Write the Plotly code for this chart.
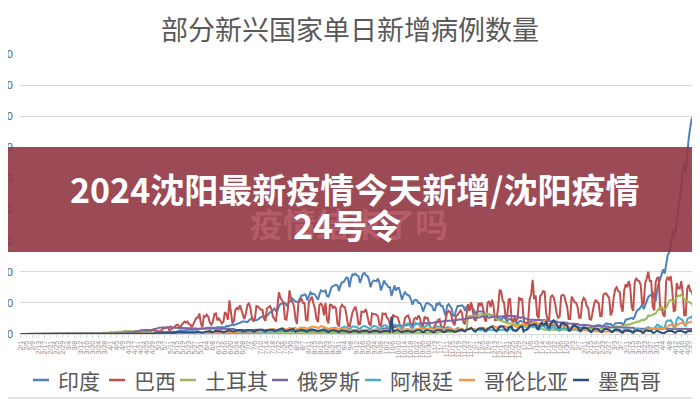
import pandas as pd
import plotly.graph_objects as go

# ---------------- data (daily new cases, in thousands) ----------------
start_date = "2020-02-01"
end_date = "2021-04-28"
dates = pd.date_range(start_date, end_date, freq="D")
tick_dates = list(dates[::4])
tick_labels = [f"{d.month}/{d.day}" for d in tick_dates]

names = ["印度", "巴西", "土耳其", "俄罗斯", "阿根廷", "哥伦比亚", "墨西哥"]
colors = ["#4F81BD", "#C0504D", "#9BBB59", "#8064A2", "#4BACC6", "#F79646", "#2C4D75"]
y_ticks = [0, 50000, 100000, 150000, 200000, 250000, 300000, 350000, 400000, 450000]

india_k = [
    0,0,0,0,0,0,0, 0,0,0,0,0,0,0, 0,0,0,0,0,0,0, 0,0,0,0,0,0,0,
    0,0,0,0,0,0,0, 0,0,0,0,0,0,0, 0,0,0,0,0,0,0, 0,0,0,0,0,0,0,
    0,0,0,0,1,1,1,
    1,1,1,1,1,1,1,
    1,1,1,1,1,1,1,
    1,2,2,1,2,2,2,
    2,2,2,2,2,2,2,
    3,2,3,4,3,3,3,
    4,4,3,4,4,4,4,
    5,5,5,5,6,6,7,
    7,7,6,7,6,7,8,
    8,8,8,8,9,10,10,
    10,10,9,9,10,11,11,
    12,12,11,10,13,12,13,
    15,15,14,15,17,17,18,
    20,20,20,19,19,22,23,
    25,24,22,22,23,25,27,
    28,29,28,29,32,35,35,
    38,41,37,37,45,48,49,
    49,50,46,48,52,53,57,
    54,52,52,52,57,62,62,
    64,62,54,61,67,64,65,
    63,58,55,64,70,69,68,
    70,61,60,67,75,77,78,
    79,78,69,78,83,83,87,
    91,90,75,89,96,95,97,
    94,93,82,90,97,98,94,
    93,87,75,83,86,86,85,
    89,82,70,80,86,81,79,
    75,75,61,72,78,70,74,
    74,66,55,63,67,64,62,
    61,55,47,54,55,54,50,
    50,45,36,43,49,50,48,
    46,45,38,38,50,47,50,
    45,45,38,29,45,48,45,
    41,30,29,38,45,45,46,
    46,44,37,44,44,43,41,
    41,38,31,36,36,35,36,
    37,32,27,31,32,30,30,
    27,27,22,26,24,22,26,
    26,24,20,24,24,23,23,
    22,19,16,20,21,20,19,
    18,18,16,18,20,18,18,
    19,16,12,16,16,15,15,
    15,13,10,13,15,14,14,
    14,13,9,12,18,11,13,
    13,11,8,11,13,12,12,
    12,11,9,11,12,10,10,
    11,11,10,12,13,13,14,
    14,14,11,13,16,17,16,
    16,16,13,14,17,17,18,
    18,18,15,17,23,23,24,
    25,26,24,28,35,39,40,
    43,47,40,47,53,59,62,
    62,68,57,53,72,81,89,
    93,104,97,115,127,131,145,
    152,169,161,185,201,217,234,
    261,274,259,295,315,332,346,
    349,353,323,361,379,
]

brazil_k = [
    0,0,0,0,0,0,0, 0,0,0,0,0,0,0, 0,0,0,0,0,0,0, 0,0,0,0,0,0,0,
    0,0,0,0,0,0,0, 0,0,0,0,0,0,0, 0,0,0,0,0,0,0,
    0,0,0,0,0,0,1,
    1,0,0,1,1,1,1,
    1,1,1,2,2,2,1,
    1,1,1,2,2,3,3,
    2,1,2,2,3,3,4,
    4,2,4,5,7,6,5,
    4,4,5,6,10,9,10,
    11,6,7,9,11,13,15,
    14,8,14,18,20,18,20,
    16,15,11,16,20,26,26,
    33,17,11,29,28,31,27,
    18,15,20,32,33,22,25,
    21,17,20,35,32,23,54,
    34,17,21,39,42,40,46,
    38,30,24,33,47,49,42,
    26,20,25,45,44,42,39,
    39,25,21,41,43,45,40,
    28,24,20,45,67,58,55,
    51,24,23,41,70,57,52,
    45,25,16,51,53,57,50,
    50,23,22,52,55,60,49,
    41,24,19,47,49,45,30,
    50,23,17,47,47,42,44,
    41,16,12,42,47,44,43,
    30,14,11,24,35,40,44,
    33,15,16,36,35,36,40,
    30,17,13,33,32,32,31,
    28,14,13,33,32,33,26,
    24,14,11,31,28,28,27,
    20,9,9,12,26,28,30,
    24,10,14,24,26,24,30,
    25,14,13,28,25,26,19,
    10,9,9,14,18,23,24,
    13,10,11,23,34,37,35,
    29,18,14,29,31,35,38,
    33,18,16,31,48,37,51,
    41,24,21,31,50,46,50,
    42,24,20,50,53,43,55,
    44,21,25,42,70,69,54,
    50,27,25,55,57,22,19,
    27,20,25,59,55,57,24,
    15,17,20,56,63,87,56,
    62,30,25,61,64,69,68,
    33,24,23,59,62,59,49,
    33,26,28,61,63,62,52,
    44,24,24,60,56,51,50,
    43,26,26,52,58,55,45,
    42,24,23,36,48,55,52,
    49,29,29,62,65,65,61,
    58,30,36,59,72,75,69,
    68,44,36,70,80,75,85,
    76,43,37,83,90,86,85,
    79,47,49,82,89,100,85,
    85,44,38,84,90,91,38,
    44,31,28,86,92,86,93,
    71,37,38,82,73,73,85,
    67,30,30,73,79,69,68,
    60,32,30,75,79,
]

turkey_k = [
    0,0,0,0,0,0,0, 0,0,0,0,0,0,0, 0,0,0,0,0,0,0, 0,0,0,0,0,0,0,
    0,0,0,0,0,0,0, 0,0,0,0,0,0,0,
    0,0,0,0,0,0,0,
    0,0,0,0,1,1,2,
    2,1,2,2,3,2,3,
    3,3,3,4,4,4,5,
    5,4,4,4,4,4,4,
    4,4,5,4,3,3,3,
    3,3,2,2,2,2,2,
    2,2,2,2,2,2,2,
    2,2,1,1,1,1,1,
    1,1,1,1,1,1,1, 1,1,1,1,1,1,1, 1,1,1,1,1,1,1, 1,1,1,1,1,1,1,
    1,1,1,1,1,1,1, 1,1,1,1,1,1,1, 1,1,1,1,1,1,1, 1,1,1,1,1,1,1,
    1,1,1,1,1,1,1, 1,1,1,1,1,1,1, 1,1,1,1,1,1,1, 1,1,1,1,1,1,1,
    1,1,1,1,1,1,1, 1,1,1,1,1,1,1, 1,1,1,1,1,1,1, 1,1,1,1,1,1,1,
    2,2,2,2,2,2,2, 2,2,2,2,2,2,2, 2,2,2,2,2,2,2, 2,2,2,2,2,2,2,
    2,2,2,2,2,2,2, 2,2,2,2,2,2,2, 2,2,2,2,2,2,2, 2,2,2,2,2,2,2,
    2,2,2,2,2,2,3,
    3,3,3,3,3,3,3,
    3,4,4,4,4,4,5,
    5,5,6,7,28,29,29,
    28,29,29,30,31,32,32,
    30,30,33,32,31,31,30,
    29,26,24,23,22,21,20,
    19,18,17,17,17,17,16,
    16,15,15,15,14,13,12,
    12,11,11,11,12,11,11,
    10,9,9,9,8,8,7,
    7,7,6,6,6,6,6,
    6,6,6,6,6,6,7,
    7,7,7,7,7,7,7,
    7,7,7,7,7,8,8,
    8,8,8,8,8,8,9,
    9,9,9,9,10,10,11,
    11,11,11,12,12,11,12,
    12,12,13,14,15,15,15,
    16,17,17,18,19,20,20,
    21,23,22,24,25,30,29,
    30,31,32,33,37,40,40,
    44,41,39,42,49,54,55,
    53,52,55,59,62,61,63,
    61,55,54,53,52,50,49,
    43,40,37,36,38,
]

russia_k = [
    0,0,0,0,0,0,0, 0,0,0,0,0,0,0, 0,0,0,0,0,0,0, 0,0,0,0,0,0,0,
    0,0,0,0,0,0,0, 0,0,0,0,0,0,0, 0,0,0,0,0,0,0, 0,0,0,0,0,0,0,
    0,0,0,1,1,1,1,
    1,1,1,1,1,2,2,
    2,2,3,3,3,3,4,
    4,4,5,6,6,6,6,
    6,7,7,6,7,8,8,
    9,10,10,11,10,11,11,
    11,11,12,10,10,10,10,
    9,9,9,9,9,9,9,
    9,9,9,9,9,9,8,
    9,9,9,9,9,9,9,
    9,9,9,9,9,8,8,
    8,8,8,8,8,8,8,
    8,8,8,7,7,7,7,
    7,7,7,7,7,7,7,
    7,7,7,7,7,7,7,
    7,7,7,6,6,6,6,
    6,6,6,6,6,6,6,
    6,6,6,6,6,5,5,
    5,5,5,5,5,5,5,
    5,5,5,5,5,5,5,
    5,5,5,5,5,5,5,
    5,5,5,5,5,5,5,
    5,5,5,5,5,5,5,
    5,5,5,5,5,6,6,
    6,6,6,6,6,6,6,
    6,6,6,6,6,7,7,
    8,8,8,8,9,9,9,
    10,10,10,11,11,12,12,
    13,13,13,14,14,14,15,
    15,15,15,16,16,16,17,
    17,17,17,17,17,18,18,
    18,18,18,19,19,19,20,
    20,20,21,21,21,21,21,
    22,22,22,22,23,23,24,
    24,24,24,25,25,25,26,
    27,26,26,26,26,27,28,
    28,29,28,27,26,27,28,
    28,28,28,27,27,28,28,
    29,28,28,29,29,30,29,
    29,28,27,27,26,27,27,
    25,24,24,23,23,23,23,
    23,23,22,22,23,23,22,
    22,21,21,20,21,21,21,
    20,19,19,18,18,18,18,
    18,17,17,17,16,16,16,
    16,15,15,14,15,15,15,
    14,14,13,13,13,13,13,
    13,12,12,12,12,12,12,
    11,11,11,11,11,11,11,
    11,11,10,10,10,10,10,
    10,10,10,9,9,9,9,
    9,9,9,8,8,8,9,
    9,9,9,8,8,9,9,
    9,9,9,8,8,9,9,
    9,9,8,8,8,9,9,
    9,9,9,8,8,9,9,
    9,9,8,8,8,
]

argentina_k = [
    0,0,0,0,0,0,0, 0,0,0,0,0,0,0, 0,0,0,0,0,0,0, 0,0,0,0,0,0,0,
    0,0,0,0,0,0,0, 0,0,0,0,0,0,0, 0,0,0,0,0,0,0, 0,0,0,0,0,0,0,
    0,0,0,0,0,0,0, 0,0,0,0,0,0,0, 0,0,0,0,0,0,0, 0,0,0,0,0,0,0,
    0,0,0,0,0,0,0,
    0,0,0,0,0,0,0,
    0,0,0,0,0,0,0,
    0,0,0,1,0,0,1,
    1,1,0,1,1,1,1,
    1,1,1,1,1,1,1,
    1,1,1,1,1,1,1,
    2,1,1,2,2,2,2,
    2,2,2,2,2,2,3,
    3,2,2,3,3,3,3,
    3,2,2,3,4,4,3,
    4,3,3,4,4,4,4,
    4,3,3,4,5,4,5,
    5,4,4,5,6,6,6,
    6,4,4,6,6,7,6,
    7,6,6,7,8,7,7,
    7,6,4,6,7,8,8,
    8,7,6,8,9,10,10,
    10,7,6,9,10,11,12,
    11,8,8,10,12,12,12,
    11,9,8,11,12,13,12,
    11,9,8,11,13,13,12,
    11,9,8,12,14,14,13,
    12,10,8,13,15,15,14,
    13,10,8,12,15,16,17,
    14,12,9,13,18,16,16,
    13,11,8,11,13,15,14,
    10,8,7,10,12,12,11,
    11,8,6,9,11,11,10,
    9,7,6,8,10,9,9,
    8,6,5,7,8,8,8,
    8,5,4,7,7,7,7,
    6,4,4,6,7,7,7,
    6,5,4,6,7,7,7,
    7,5,4,7,8,8,7,
    6,5,6,11,11,13,7,
    6,6,8,13,14,14,13,
    12,8,7,11,13,13,11,
    9,7,6,9,11,10,10,
    8,6,5,8,9,9,9,
    7,5,5,7,8,8,7,
    6,4,4,6,7,7,6,
    6,4,3,5,7,7,7,
    6,4,4,6,8,8,7,
    6,4,4,6,8,8,7,
    6,4,4,7,8,8,7,
    6,4,4,7,9,9,8,
    7,5,4,8,10,11,10,
    9,7,9,12,15,14,10,
    12,8,11,20,22,21,22,
    18,11,10,23,27,25,24,
    22,15,13,24,25,27,28,
    22,16,12,21,20,
]

colombia_k = [
    0,0,0,0,0,0,0, 0,0,0,0,0,0,0, 0,0,0,0,0,0,0, 0,0,0,0,0,0,0,
    0,0,0,0,0,0,0, 0,0,0,0,0,0,0, 0,0,0,0,0,0,0, 0,0,0,0,0,0,0,
    0,0,0,0,0,0,0, 0,0,0,0,0,0,0, 0,0,0,0,0,0,0, 0,0,0,0,0,0,0,
    0,0,0,0,0,0,0, 0,0,0,0,0,0,0,
    0,0,0,1,0,0,0,
    0,0,0,1,1,1,1,
    1,1,1,1,1,1,1,
    1,1,1,1,1,1,1,
    2,1,1,1,2,2,2,
    2,2,2,2,3,3,3,
    3,3,2,3,3,4,4,
    4,4,3,3,4,4,4,
    5,4,3,4,5,5,5,
    6,6,5,5,7,7,8,
    8,8,6,7,8,9,9,
    9,8,7,8,10,9,9,
    10,10,8,8,10,10,11,
    11,10,8,10,11,12,12,
    12,11,9,11,13,12,11,
    11,9,8,9,10,10,9,
    9,8,7,8,9,9,8,
    8,7,5,6,7,7,7,
    7,6,5,6,7,7,7,
    7,6,5,6,7,7,7,
    7,6,5,6,7,7,7,
    7,6,5,6,7,8,8,
    8,7,6,7,8,8,8,
    8,7,6,7,8,9,9,
    9,8,7,8,9,9,9,
    9,8,6,7,8,9,9,
    8,7,6,7,8,9,9,
    8,7,6,7,8,8,8,
    8,7,6,7,9,9,9,
    9,8,7,8,9,10,10,
    10,9,8,9,10,11,12,
    13,12,10,11,13,13,13,
    13,13,11,12,13,14,14,
    13,11,10,12,14,15,16,
    15,14,13,15,17,18,18,
    19,18,16,17,19,20,21,
    19,17,15,16,17,17,16,
    15,13,12,13,14,13,13,
    12,10,9,9,10,10,9,
    8,7,6,6,7,7,6,
    5,5,4,4,5,5,5,
    4,4,3,4,4,4,4,
    4,4,3,4,5,5,5,
    4,4,3,4,4,5,5,
    5,4,3,4,5,6,6,
    6,6,5,6,7,8,9,
    9,9,8,9,10,9,8,
    10,9,8,11,13,14,15,
    15,14,12,14,16,17,18,
    18,17,15,17,19,19,20,
    19,18,17,18,19,
]

mexico_k = [
    0,0,0,0,0,0,0, 0,0,0,0,0,0,0, 0,0,0,0,0,0,0, 0,0,0,0,0,0,0,
    0,0,0,0,0,0,0, 0,0,0,0,0,0,0, 0,0,0,0,0,0,0, 0,0,0,0,0,0,0,
    0,0,0,0,0,0,0,
    0,0,0,0,0,0,1,
    0,0,0,1,1,1,1,
    1,1,1,1,1,1,1,
    1,1,1,1,1,1,2,
    2,1,1,2,2,2,2,
    2,1,1,2,2,2,3,
    3,2,2,3,3,3,3,
    3,3,2,3,3,3,4,
    3,3,2,3,4,4,4,
    5,3,3,4,5,5,5,
    5,4,3,4,5,5,6,
    5,4,4,5,6,6,6,
    6,4,4,5,6,6,7,
    6,4,4,6,7,7,7,
    7,5,4,6,7,7,7,
    7,5,5,6,7,8,9,
    7,5,5,6,6,8,8,
    7,4,5,6,7,7,6,
    6,4,4,6,7,7,7,
    6,4,4,5,6,6,6,
    6,4,3,5,6,6,6,
    5,4,3,5,6,5,5,
    5,4,3,4,5,5,5,
    5,3,3,4,5,5,5,
    5,3,3,4,5,5,5,
    5,3,3,4,5,5,5,
    5,3,28,4,5,5,6,
    5,4,3,4,5,5,5,
    5,4,3,4,6,6,6,
    6,4,3,4,6,6,6,
    5,4,3,4,6,6,6,
    6,4,3,4,6,6,6,
    6,5,3,4,6,6,6,
    7,5,4,7,7,8,10,
    7,5,4,7,9,9,9,
    9,6,5,8,10,11,12,
    9,6,5,9,11,12,12,
    10,7,6,10,11,12,6,
    5,5,7,10,12,12,4,
    6,8,9,14,14,14,16,
    15,9,8,15,18,15,15,
    20,12,9,17,19,22,19,
    16,10,10,17,18,16,15,
    14,6,6,10,14,14,13,
    11,6,5,9,10,10,9,
    8,5,3,6,9,9,8,
    7,4,3,6,8,8,7,
    7,4,3,5,7,7,6,
    6,3,2,5,6,6,5,
    5,3,2,5,6,6,5,
    5,2,2,5,6,5,5,
    5,2,2,4,5,4,3,
    2,1,2,4,5,5,5,
    5,3,2,4,5,5,5,
    4,3,2,4,5,5,4,
    4,2,2,4,5,
]

series_k = [india_k, brazil_k, turkey_k, russia_k, argentina_k, colombia_k, mexico_k]
lengths = {nm: len(s) for nm, s in zip(names, series_k)}
assert all(v == len(dates) for v in lengths.values()), (lengths, len(dates))

# ---------------- figure geometry ----------------
# The page body adds an 8px margin, so the figure is sized to the visible area
# and all layout positions are given in page pixels minus that offset.
OFF = 8
FIG_W, FIG_H = 700 - OFF, 400 - OFF
PL, PT, PR, PB = 20, 54, 700, 334   # plot area in page pixels
L, T = PL - OFF, PT - OFF
W, H = PR - PL, PB - PT


def px_x(x):
    return (x - PL) / W


def px_y(y):
    return (PB - y) / H


fig = go.Figure()
for nm, s, c in zip(names, series_k, colors):
    fig.add_trace(go.Scatter(
        x=dates, y=[v * 1000 for v in s], mode="lines", name=nm,
        line=dict(color=c, width=2), showlegend=False, hoverinfo="skip",
    ))

shapes = []
annotations = []

# custom legend
legend_text_left = [56, 132, 203, 295, 388, 482, 596]
legend_y = 380
for nm, c, lx in zip(names, colors, legend_text_left):
    shapes.append(dict(type="line", xref="paper", yref="paper",
                       x0=px_x(lx - 23), x1=px_x(lx - 7),
                       y0=px_y(legend_y), y1=px_y(legend_y),
                       line=dict(color=c, width=2.5)))
    annotations.append(dict(text=nm, xref="paper", yref="paper",
                            x=px_x(lx), y=px_y(legend_y), xanchor="left", yanchor="middle",
                            showarrow=False,
                            font=dict(family="Noto Sans CJK SC", size=21, color="#595959")))

# bottom page border
shapes.append(dict(type="line", xref="paper", yref="paper", x0=px_x(OFF), x1=px_x(700),
                   y0=px_y(398), y1=px_y(398), line=dict(color="#e4e4e4", width=2)))

# overlay banner
shapes.append(dict(type="rect", xref="paper", yref="paper", layer="above",
                   x0=px_x(OFF), x1=px_x(700), y0=px_y(252), y1=px_y(147),
                   fillcolor="rgb(145,54,67)", opacity=0.9, line=dict(width=0)))

ghost_font = dict(family="Noto Sans CJK SC", size=33, color="#B45D69")
annotations.append(dict(text="<b>疫情结束了吗</b>", xref="paper", yref="paper",
                        x=px_x(349), y=px_y(223), xanchor="center", yanchor="middle",
                        showarrow=False, font=ghost_font))
banner_font = dict(family="Noto Sans CJK SC", size=34, color="#FFFFFF")
annotations.append(dict(text="<b>2024沈阳最新疫情今天新增/沈阳疫情</b>", xref="paper", yref="paper",
                        x=px_x(354), y=px_y(188), xanchor="center", yanchor="middle",
                        showarrow=False, font=banner_font))
annotations.append(dict(text="<b>24号令</b>", xref="paper", yref="paper",
                        x=px_x(347), y=px_y(224), xanchor="center", yanchor="middle",
                        showarrow=False, font=banner_font))

# chart title
annotations.append(dict(text="部分新兴国家单日新增病例数量", xref="paper", yref="paper",
                        x=px_x(350), y=px_y(28), xanchor="center", yanchor="middle",
                        showarrow=False,
                        font=dict(family="Noto Sans CJK SC", size=27, color="#595959")))

fig.update_layout(
    width=FIG_W, height=FIG_H,
    margin=dict(l=L, r=FIG_W - L - W, t=T, b=FIG_H - T - H, pad=0, autoexpand=False),
    paper_bgcolor="white", plot_bgcolor="white",
    xaxis=dict(type="date", range=["2020-01-31 12:00", "2021-04-28 12:00"], automargin=False,
               tickmode="array", tickvals=tick_dates, ticktext=tick_labels,
               tickangle=-90, tickfont=dict(family="Liberation Sans", size=7, color="#8c8c8c"),
               showgrid=False, showline=True, linecolor="#d9d9d9", linewidth=1,
               ticks="outside", ticklen=3, tickcolor="#d9d9d9", zeroline=False),
    yaxis=dict(range=[0, 450000], tickmode="array", tickvals=y_ticks, automargin=False,
               ticktext=[str(v) for v in y_ticks],
               tickfont=dict(family="Liberation Sans", size=11, color="#595959"),
               showgrid=True, gridcolor="#d9d9d9", gridwidth=1, zeroline=False,
               showline=False, ticks="", ticklabelstandoff=6),
    shapes=shapes, annotations=annotations,
)

fig.write_html("out.html")
